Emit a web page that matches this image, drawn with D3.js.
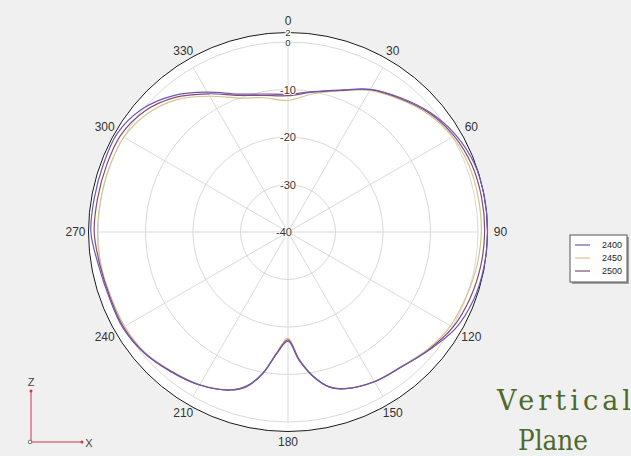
<!DOCTYPE html>
<html>
<head>
<meta charset="utf-8">
<script src="https://cdn.jsdelivr.net/npm/d3@7"></script>
<style>
  body { margin: 0; background: #f0f0f0; }
  svg { display: block; }
</style>
</head>
<body>
<div id="chart"></div>
<script>
// pattern angles (deg, clockwise from top) and gain in dB for each frequency
let angles = [0, 10, 20, 30, 40, 50, 60, 70, 80, 90, 100, 110, 120, 130, 140, 150, 160, 165, 170, 175,
              180, 185, 190, 195, 200, 210, 220, 230, 240, 250, 260, 270, 280, 290, 300, 310, 320, 330, 340, 350];

let gain2400 = [-11.0, -10.0, -8.2, -5.3, -3.1, -0.9, 0.8, 1.8, 2.0, 2.0, 1.9, 1.6, 0.7, -1.3, -2.9, -3.6, -4.9, -6.2, -9.0, -12.8,
                -17.0, -14.5, -9.8, -6.3, -4.6, -2.8, -1.6, -0.4, 0.2, 0.1, 0.5, 1.5, 1.4, 1.4, 1.5, 0.2, -2.5, -6.0, -9.1, -10.5];
let gain2450 = [-12.3, -10.5, -8.4, -5.6, -3.5, -1.4, 0.0, 0.6, 0.7, 0.7, 0.4, -0.1, -0.5, -1.6, -3.0, -3.7, -4.9, -6.3, -9.2, -13.2,
                -17.6, -14.8, -10.0, -6.5, -4.7, -2.9, -1.8, -0.6, -0.3, -0.3, 0.0, 0.1, 0.0, 0.0, -0.1, -1.3, -3.6, -7.0, -10.0, -11.3];
let gain2500 = [-11.3, -10.1, -8.3, -5.4, -3.3, -1.1, 0.4, 1.2, 1.4, 1.4, 1.2, 0.8, 0.1, -1.4, -2.9, -3.6, -4.9, -6.2, -9.1, -13.0,
                -17.3, -14.6, -9.9, -6.4, -4.6, -2.8, -1.7, -0.5, 0.0, -0.1, 0.2, 0.8, 0.7, 0.7, 0.7, -0.5, -3.0, -6.4, -9.4, -10.8];

let freqs = ['2400', '2450', '2500'];
let colors = ['#6a5ab4', '#d2c58e', '#8a4a70'];

let ringValues = [-40, -30, -20, -10, 0];
let ringLabels = ['-40', '-30', '-20', '-10', '0', '2'];
let spokeAngles = [0, 30, 60, 90, 120, 150, 180, 210, 240, 270, 300, 330];

let dim = {
    'width': 631,
    'height': 456
};

let cx = 288;
let cy = 232;

let svg = d3.select('#chart').append('svg')
    .attr('width', dim.width)
    .attr('height', dim.height);

svg.append('rect')
    .attr('width', dim.width)
    .attr('height', dim.height)
    .attr('fill', '#f0f0f0');

let scaleR = d3.scaleLinear()
    .domain([-40, 2])
    .range([0, 199.5]);

let g = svg.append('g')
    .attr('transform', `translate(${cx}, ${cy})`);

// plot disc
g.append('circle')
    .attr('r', scaleR(2))
    .attr('fill', '#ffffff')
    .attr('stroke', 'none');

// grid rings
g.selectAll('.ring')
    .data(ringValues.filter(d => d > -40))
    .join('circle')
    .attr('class', 'ring')
    .attr('r', d => scaleR(d))
    .attr('fill', 'none')
    .attr('stroke', '#d9d9d9')
    .attr('stroke-width', 1);

// spokes
g.selectAll('.spoke')
    .data(spokeAngles)
    .join('line')
    .attr('class', 'spoke')
    .attr('x1', 0)
    .attr('y1', 0)
    .attr('x2', d => scaleR(0) * Math.sin(d * Math.PI / 180))
    .attr('y2', d => -scaleR(0) * Math.cos(d * Math.PI / 180))
    .attr('stroke', '#d9d9d9')
    .attr('stroke-width', 1);

// outer circle
g.append('circle')
    .attr('r', scaleR(2))
    .attr('fill', 'none')
    .attr('stroke', '#1a1a1a')
    .attr('stroke-width', 1);

// angle labels
g.selectAll('.alabel')
    .data(spokeAngles)
    .join('text')
    .attr('class', 'alabel')
    .attr('x', d => (scaleR(2) + 7 + 6 * Math.abs(Math.sin(d * Math.PI / 180))) * Math.sin(d * Math.PI / 180))
    .attr('y', d => d === 0 ? -scaleR(2) - 12 : -(scaleR(2) + 10) * Math.cos(d * Math.PI / 180))
    .attr('text-anchor', 'middle')
    .attr('dominant-baseline', 'central')
    .attr('font-family', 'Liberation Sans, Arial, sans-serif')
    .attr('font-size', 12)
    .attr('fill', '#333')
    .text(d => d);

// curves
let line = d3.lineRadial()
    .angle(d => d.a * Math.PI / 180)
    .radius(d => scaleR(d.v))
    .curve(d3.curveCatmullRomClosed.alpha(0.5));

let series = [gain2400, gain2450, gain2500];
let order = [1, 2, 0];
order.forEach(i => {
    let pts = angles.map((a, k) => ({ a: a, v: series[i][k] }));
    g.append('path')
        .attr('d', line(pts))
        .attr('fill', 'none')
        .attr('stroke', colors[i])
        .attr('stroke-width', 1.2);
});

// ring labels along the 0 deg spoke
let ringLabelVals = [-40, -30, -20, -10, 0, 2];
g.selectAll('.rlabel')
    .data(ringLabelVals)
    .join('text')
    .attr('class', 'rlabel')
    .attr('x', d => d === -40 ? -4 : 0)
    .attr('y', d => -scaleR(d))
    .attr('text-anchor', 'middle')
    .attr('dominant-baseline', 'central')
    .attr('font-family', 'Liberation Sans, Arial, sans-serif')
    .attr('font-size', d => d >= 0 ? 9.5 : 11)
    .attr('fill', '#333')
    .attr('stroke', '#ffffff')
    .attr('stroke-width', 2)
    .attr('paint-order', 'stroke')
    .text((d, i) => ringLabels[i]);

// legend
let leg = svg.append('g')
    .attr('transform', 'translate(570, 235)');

leg.append('rect')
    .attr('x', 2)
    .attr('y', 2)
    .attr('width', 57)
    .attr('height', 47)
    .attr('fill', '#a0a0a0');

leg.append('rect')
    .attr('width', 57)
    .attr('height', 47)
    .attr('fill', '#ffffff')
    .attr('stroke', '#555')
    .attr('stroke-width', 1);

freqs.forEach((f, i) => {
    leg.append('line')
        .attr('x1', 5)
        .attr('x2', 20)
        .attr('y1', 10 + i * 13)
        .attr('y2', 10 + i * 13)
        .attr('stroke', colors[i])
        .attr('stroke-width', 1.2);
    leg.append('text')
        .attr('x', 32)
        .attr('y', 10 + i * 13)
        .attr('dominant-baseline', 'central')
        .attr('font-family', 'Liberation Sans, Arial, sans-serif')
        .attr('font-size', 9)
        .attr('fill', '#222')
        .text(f);
});

// axis indicator
let ax = svg.append('g');
ax.append('line')
    .attr('x1', 31).attr('y1', 442).attr('x2', 31).attr('y2', 391)
    .attr('stroke', '#c83a4a').attr('stroke-width', 1);
ax.append('line')
    .attr('x1', 31).attr('y1', 442).attr('x2', 82).attr('y2', 442)
    .attr('stroke', '#c83a4a').attr('stroke-width', 1);
ax.append('circle').attr('cx', 31).attr('cy', 391).attr('r', 1.5).attr('fill', '#c83a4a');
ax.append('circle').attr('cx', 82).attr('cy', 442).attr('r', 1.5).attr('fill', '#c83a4a');
ax.append('circle').attr('cx', 30).attr('cy', 442).attr('r', 1.8)
    .attr('fill', '#fff').attr('stroke', '#555').attr('stroke-width', 0.8);
ax.append('text').attr('x', 31).attr('y', 382).attr('text-anchor', 'middle')
    .attr('dominant-baseline', 'central')
    .attr('font-family', 'Liberation Sans, Arial, sans-serif').attr('font-size', 11)
    .attr('fill', '#444').text('Z');
ax.append('text').attr('x', 89).attr('y', 443).attr('text-anchor', 'middle')
    .attr('dominant-baseline', 'central')
    .attr('font-family', 'Liberation Sans, Arial, sans-serif').attr('font-size', 11)
    .attr('fill', '#444').text('X');

// title text
svg.append('text')
    .attr('x', 497).attr('y', 410)
    .attr('textLength', 134).attr('lengthAdjust', 'spacing')
    .attr('font-family', 'DejaVu Serif, serif').attr('font-size', 27)
    .attr('fill', '#4e6a2a').text('Vertical');
svg.append('text')
    .attr('x', 518).attr('y', 450)
    .attr('textLength', 70).attr('lengthAdjust', 'spacingAndGlyphs')
    .attr('font-family', 'DejaVu Serif, serif').attr('font-size', 27)
    .attr('fill', '#4e6a2a').text('Plane');
</script>
</body>
</html>
